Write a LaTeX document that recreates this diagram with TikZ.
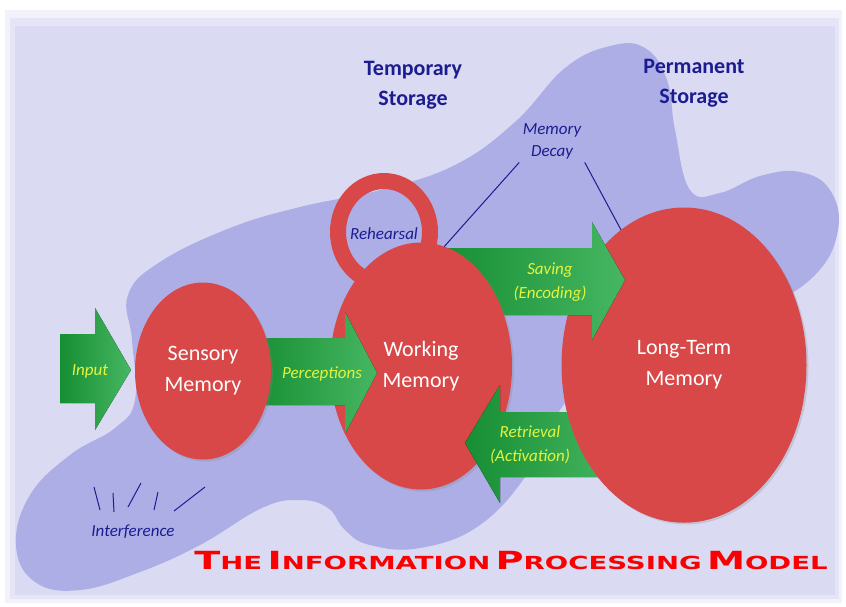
\documentclass[tikz,border=0pt]{standalone}
\usepackage{fontspec}
\setmainfont{Carlito}
\newfontfamily\titlefont{DejaVu Sans}
\usetikzlibrary{shapes.geometric,shadows}
\definecolor{pagebg}{RGB}{218,218,243}
\definecolor{blob}{RGB}{174,174,230}
\definecolor{memred}{RGB}{216,72,72}
\definecolor{greendark}{RGB}{22,142,50}
\definecolor{greenlight}{RGB}{70,182,98}
\definecolor{labelyellow}{RGB}{228,244,62}
\definecolor{navy}{RGB}{28,28,145}
\definecolor{titlered}{RGB}{250,0,0}
\newcommand\capword[2]{{\fontsize{25}{25}\selectfont #1}{\fontsize{18}{18}\selectfont #2}}
\tikzset{
  memory/.style={ellipse, fill=memred, text=white, align=center, inner sep=0pt, outer sep=0pt,
    font=\fontsize{22}{31}\selectfont,
    drop shadow={shadow xshift=2pt, shadow yshift=-2pt, opacity=0.25}},
  flowarrow/.style={left color=greendark, right color=greenlight},
  flowlabel/.style={text=labelyellow, align=center, font=\fontsize{17}{24}\selectfont\itshape},
  storelabel/.style={text=navy, align=center, font=\fontsize{22}{30}\selectfont\bfseries},
  notelabel/.style={text=navy, align=center, font=\fontsize{17}{22}\selectfont\itshape},
  noteline/.style={navy, line width=1pt},
}
\begin{document}
\begin{tikzpicture}[x=1pt,y=-1pt]
\useasboundingbox (0,0) rectangle (846,606);
% page
\fill[white] (0,0) rectangle (846,606);
\fill[pagebg!35] (5,10) rectangle (842,603);
\fill[pagebg!70] (10,18) rectangle (839,599);
\fill[pagebg] (15,26) rectangle (835,595);
% storage area
\fill[blob] plot[smooth cycle, tension=0.7] coordinates {
  (300,207) (380,190) (455,165) (515,122) (565,68) (610,46) (645,48) (667,80)
  (675,130) (690,190) (720,193) (760,176) (800,172) (830,190) (838,230) (815,275)
  (760,310) (680,345) (600,370) (560,410) (530,470) (480,525) (420,548) (370,545)
  (345,530) (328,508) (300,500) (262,508) (200,545) (140,572) (80,590) (35,582)
  (16,545) (30,495) (70,455) (115,428) (135,400) (132,340) (128,295) (160,262) (230,228)};
% rehearsal loop
\draw[memred, line width=16pt] (384,232) ellipse [x radius=46, y radius=51];
\node[memory, minimum width=245pt, minimum height=315pt] (longterm) at (684,365) {Long-Term\\Memory};
\fill[flowarrow] (435,248) -- (592,248) -- (592,222) -- (625,280) -- (592,340) -- (592,315) -- (435,315) -- cycle;
\node[memory, minimum width=182pt, minimum height=247pt] (working) at (421,366) {Working\\Memory};
\fill[flowarrow] (620,412) -- (500,412) -- (500,385) -- (465,443) -- (500,503) -- (500,477) -- (620,477) -- cycle;
\begin{scope}
  \clip (560,400) rectangle (820,530);
  \fill[memred] (longterm.center) ellipse [x radius=122.5, y radius=157.5];
\end{scope}
\fill[flowarrow] (250,338) -- (345,338) -- (345,312) -- (377,373) -- (345,434) -- (345,405) -- (250,405) -- cycle;
\node[memory, minimum width=136pt, minimum height=177pt] (sensory) at (203,371) {Sensory\\Memory};
\fill[flowarrow] (60,334) -- (95,334) -- (95,308) -- (131,370) -- (95,430) -- (95,403) -- (60,403) -- cycle;
% labels
\node[flowlabel] (input) at (90,371) {Input};
\node[flowlabel] (perc) at (322,374) {Perceptions};
\node[flowlabel] (saving) at (550,282) {Saving\\(Encoding)};
\node[flowlabel] (retrieval) at (530,445) {Retrieval\\(Activation)};
\node[storelabel] (temp) at (413,85) {Temporary\\Storage};
\node[storelabel] (perm) at (694,83) {Permanent\\Storage};
\node[notelabel] (decay) at (552,141) {Memory\\Decay};
\node[notelabel] (rehearsal) at (384,234) {Rehearsal};
\node[notelabel] (interf) at (133,532) {Interference};
\draw[noteline] (decay.south west) -- (working.79);
\draw[noteline] (decay.south east) -- (longterm.115);
\foreach \xa/\ya/\xb/\yb in {94/487/100/510, 113/493/114/512, 141/483/128/507, 158/492/154/510, 205/487/174/511}
  \draw[noteline] (\xa,\ya) -- (\xb,\yb);
% title
\node[text=titlered, font=\titlefont\bfseries] (title) at (511,561)
  {\scalebox{1.53}[1]{\capword{T}{HE} \capword{I}{NFORMATION} \capword{P}{ROCESSING} \capword{M}{ODEL}}};
\end{tikzpicture}
\end{document}
